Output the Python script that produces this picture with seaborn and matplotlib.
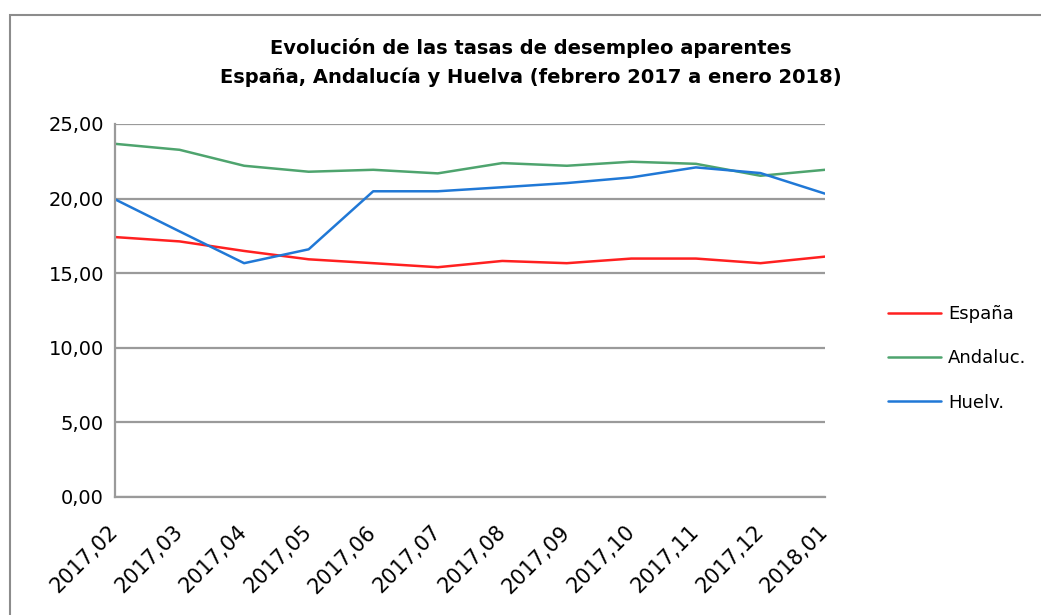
import matplotlib
matplotlib.use("Agg")
import matplotlib.pyplot as plt
import pandas as pd
import seaborn as sns
from matplotlib.patches import Rectangle

months = ["2017,02", "2017,03", "2017,04", "2017,05", "2017,06", "2017,07",
          "2017,08", "2017,09", "2017,10", "2017,11", "2017,12", "2018,01"]
espana = [17.42, 17.13, 16.49, 15.93, 15.67, 15.40, 15.82, 15.67, 15.98, 15.98, 15.67, 16.11]
andalucia = [23.67, 23.27, 22.20, 21.80, 21.93, 21.69, 22.38, 22.20, 22.47, 22.33, 21.53, 21.93]
huelva = [19.95, 17.80, 15.67, 16.60, 20.49, 20.49, 20.76, 21.04, 21.42, 22.09, 21.71, 20.33]
series_names = ["España", "Andaluc.", "Huelv."]
colors = ["#ff2020", "#4ea46e", "#2078d6"]

sns.set_theme(style="white")
plt.rcParams["font.family"] = ["DejaVu Sans"]
plt.rcParams["text.color"] = "black"
plt.rcParams["xtick.color"] = "black"
plt.rcParams["ytick.color"] = "black"

df = pd.DataFrame({
    "mes": list(range(len(months))) * 3,
    "tasa": espana + andalucia + huelva,
    "serie": [n for n in series_names for _ in months],
})

fig = plt.figure(figsize=(10.41, 6.15), dpi=100)
ax = fig.add_axes([0.1105, 0.1919, 0.682, 0.6065])

sns.lineplot(data=df, x="mes", y="tasa", hue="serie", palette=colors,
             hue_order=series_names, linewidth=1.8, ax=ax, legend=False)

ax.set_xlim(0, len(months) - 1)
ax.set_ylim(0, 25)
ax.set_yticks([0, 5, 10, 15, 20, 25])
ax.set_yticklabels([f"{v:.2f}".replace(".", ",") for v in [0, 5, 10, 15, 20, 25]], fontsize=14)
ax.set_xticks(range(len(months)))
ax.set_xticklabels(months, rotation=45, ha="right", va="center",
                   rotation_mode="anchor", fontsize=15)
ax.tick_params(axis="y", length=0, pad=8)
ax.tick_params(axis="x", length=0, pad=23)
ax.set_xlabel("")
ax.set_ylabel("")
ax.yaxis.grid(True, color="#9a9a9a", linewidth=1.6)
ax.set_axisbelow(True)
for side in ["top", "right"]:
    ax.spines[side].set_visible(False)
for side in ["left", "bottom"]:
    ax.spines[side].set_color("#9a9a9a")
    ax.spines[side].set_linewidth(1.6)

handles = [plt.Line2D([], [], color=c, linewidth=1.8) for c in colors]
fig.legend(handles, series_names, loc="upper left", bbox_to_anchor=(0.8377, 0.530),
           frameon=False, fontsize=13, handlelength=2.9, labelspacing=1.45,
           handletextpad=0.4)

fig.text(0.51, 0.899, "Evolución de las tasas de desempleo aparentes\n"
         "España, Andalucía y Huelva (febrero 2017 a enero 2018)",
         ha="center", va="center", fontsize=14, fontweight="bold",
         family=["Liberation Sans Narrow", "DejaVu Sans"], linespacing=1.6)

fig.patches.append(Rectangle((0.0095, -0.1), 1.2, 1.076, transform=fig.transFigure,
                             fill=False, edgecolor="#8c8c8c", linewidth=1.5))

fig.savefig("out.png", dpi=100)
